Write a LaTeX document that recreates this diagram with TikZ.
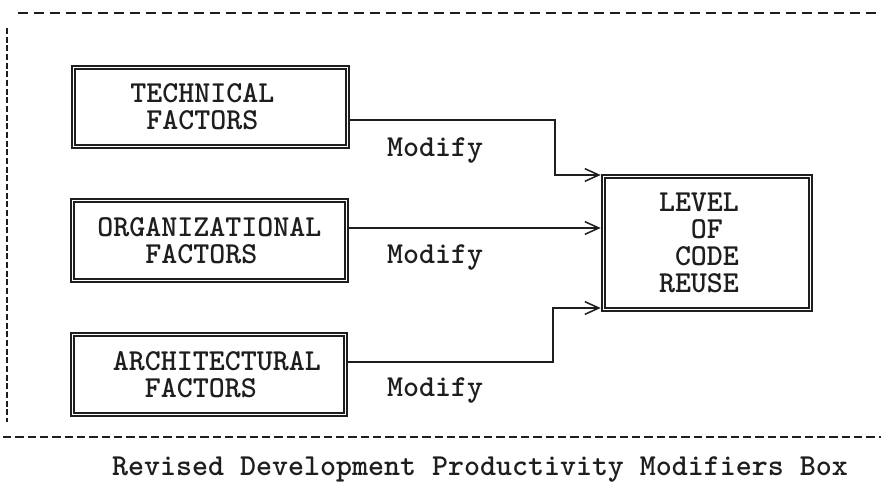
\documentclass[tikz,border=0pt]{standalone}
\usepackage{fontspec}
\usetikzlibrary{arrows.meta}
\definecolor{ink}{HTML}{1E1E1E}
\newcommand\cfont{\ttfamily\bfseries\fontsize{26}{23}\selectfont}
\newcommand\chsp[1]{\leavevmode\hphantom{#1}}
\tikzset{
  fbox/.style={draw=ink, line width=1.4pt, double=white, double distance=1.5pt,
    inner sep=0pt, text=ink, align=left, font=\cfont},
  lbl/.style={inner sep=0pt, text=ink, font=\cfont},
  arr/.style={draw=ink, line width=1.2pt, shorten >=0.06cm,
    -{Straight Barb[length=0.42cm, width=0.38cm, line width=1.3pt]}},
  frame/.style={draw=ink, line width=1.6pt}
}
\begin{document}
\begin{tikzpicture}[x=0.03cm, y=-0.03cm]
\useasboundingbox (0,0) rectangle (881,484);
% frame
\coordinate (ft1) at (18,13);  \coordinate (ft2) at (881,13);
\coordinate (fl1) at (7,28);   \coordinate (fl2) at (7,422);
\coordinate (fb1) at (3,437);  \coordinate (fb2) at (881,437);
\draw[frame, dash pattern=on 0.3cm off 0.18cm] (ft1) -- (ft2);
\draw[frame, line width=1.4pt, dash pattern=on 0.18cm off 0.08cm] (fl1) -- (fl2);
\draw[frame, dash pattern=on 0.25cm off 0.12cm] (fb1) -- (fb2);
% boxes
\node[fbox, minimum width=8.22cm, minimum height=2.37cm, text width=6.72cm] (T) at (210.5,107)
  {\chsp{XX}TECHNICAL\\\chsp{XXX}FACTORS};
\node[fbox, minimum width=8.22cm, minimum height=2.40cm, text width=6.72cm] (O) at (209.5,240.5)
  {ORGANIZATIONAL\\\chsp{XXX}FACTORS};
\node[fbox, minimum width=8.19cm, minimum height=2.40cm, text width=6.72cm] (A) at (209,374.5)
  {\chsp{X}ARCHITECTURAL\\\chsp{XXX}FACTORS};
\node[fbox, minimum width=6.21cm, minimum height=3.99cm, text width=2.88cm] (L) at (707,243)
  {LEVEL\\\chsp{XX}OF\\\chsp{X}CODE\\REUSE};
% labels
\node[lbl, anchor=base west] (m1) at (387,157) {Modify};
\node[lbl, anchor=base west] (m2) at (387,263) {Modify};
\node[lbl, anchor=base west] (m3) at (387,396) {Modify};
\node[lbl, anchor=base west] (cap) at (112,475) {Revised Development Productivity Modifiers Box};
% connectors
\coordinate (j1) at (555,0);
\coordinate (j3) at (553,0);
\coordinate (t1) at ([yshift=2.04cm]L.west);
\coordinate (t3) at ([yshift=-1.95cm]L.west);
\coordinate (s1) at ([yshift=-0.39cm]T.east);
\coordinate (s2) at ([yshift=0.375cm]O.east);
\coordinate (s3) at ([yshift=0.375cm]A.east);
\draw[arr] (s1) -| (j1 |- t1) -- (t1);
\draw[arr] (s2) -- (s2 -| L.west);
\draw[arr] (s3) -| (j3 |- t3) -- (t3);
\end{tikzpicture}
\end{document}
